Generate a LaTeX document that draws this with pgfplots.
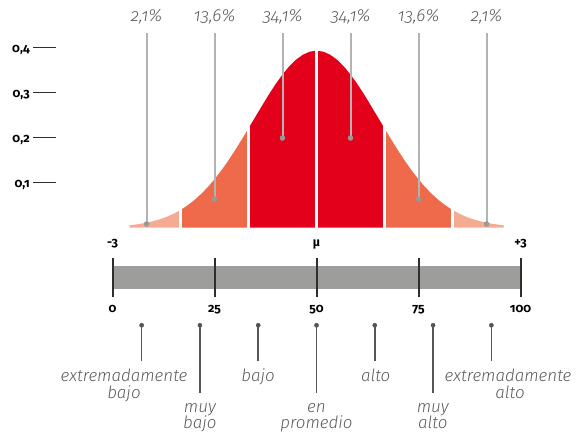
\documentclass[border=0pt]{standalone}
\usepackage{fontspec}
\setmainfont{Fira Sans}[Numbers=OldStyle]
\newfontfamily\lightit{Fira Sans Light Italic}[Numbers=OldStyle]
\usepackage{pgfplots}
\pgfplotsset{compat=1.18}
\definecolor{peach}{HTML}{F4AB91}
\definecolor{coral}{HTML}{EE6A4B}
\definecolor{redc}{HTML}{E2001A}
\definecolor{pline}{HTML}{B3B3B3}
\definecolor{pdot}{HTML}{999999}
\definecolor{txt}{HTML}{5C5C5C}
\definecolor{barc}{HTML}{9D9E9C}
\definecolor{dark}{HTML}{2E2E2E}
\definecolor{catc}{HTML}{555555}
\tikzset{
  pctlab/.style={anchor=base, text=txt, inner sep=0pt, font=\lightit\fontsize{17.5}{19}\selectfont},
  boldlab/.style={anchor=base, inner sep=0pt, font=\bfseries\fontsize{12.5}{14}\selectfont},
  ylab/.style={anchor=base east, inner sep=0pt, font=\bfseries\fontsize{12.5}{14}\selectfont},
  catlab/.style={anchor=base, inner sep=0pt, text=txt, font=\lightit\fontsize{17}{18}\selectfont}
}
\begin{document}
\begin{tikzpicture}
\begin{axis}[scale only axis, width=577bp, height=434bp,
  xmin=-4.6544, xmax=3.8309, ymin=-0.45889, ymax=0.50556,
  axis lines=none, clip=false, unbounded coords=jump]
% curve segments
\addplot[fill=peach, draw=none] coordinates {(-2.75,0) (-2.75,0.0050) (-2.7,0.0058) (-2.6,0.0079) (-2.5,0.0106) (-2.4,0.0141) (-2.3,0.0185) (-2.2,0.0239) (-2.1,0.0307) (-2.0,0.0389) (-2.0,0)};
\addplot[fill=coral, draw=none] coordinates {(-2,0) (-2,0.0389) (-1.9,0.0488) (-1.8,0.0604) (-1.7,0.0740) (-1.6,0.0895) (-1.5,0.1071) (-1.4,0.1266) (-1.3,0.1480) (-1.2,0.1711) (-1.1,0.1953) (-1,0.2205) (-1,0)};
\addplot[fill=redc, draw=none] coordinates {(-1,0) (-1,0.2205) (-0.9,0.2457) (-0.8,0.2709) (-0.7,0.2957) (-0.6,0.3190) (-0.5,0.3400) (-0.4,0.3583) (-0.3,0.3731) (-0.2,0.3840) (-0.1,0.3907) (0,0.3930) (0,0)};
\addplot[fill=redc, draw=none] coordinates {(1,0) (1,0.2205) (0.9,0.2457) (0.8,0.2709) (0.7,0.2957) (0.6,0.3190) (0.5,0.3400) (0.4,0.3583) (0.3,0.3731) (0.2,0.3840) (0.1,0.3907) (0,0.3930) (0,0)};
\addplot[fill=coral, draw=none] coordinates {(2,0) (2,0.0389) (1.9,0.0488) (1.8,0.0604) (1.7,0.0740) (1.6,0.0895) (1.5,0.1071) (1.4,0.1266) (1.3,0.1480) (1.2,0.1711) (1.1,0.1953) (1,0.2205) (1,0)};
\addplot[fill=peach, draw=none] coordinates {(2.75,0) (2.75,0.0050) (2.7,0.0058) (2.6,0.0079) (2.5,0.0106) (2.4,0.0141) (2.3,0.0185) (2.2,0.0239) (2.1,0.0307) (2.0,0.0389) (2.0,0)};
% white separators
\addplot[white, line width=2.7bp] coordinates {(-2,-0.002) (-2,0.06) (-2,nan) (-1,-0.002) (-1,0.24) (-1,nan) (0,-0.002) (0,0.41) (0,nan) (1,-0.002) (1,0.24) (1,nan) (2,-0.002) (2,0.06)};
% percentage pointers
\addplot[pline, line width=2bp] coordinates {(-2.5,0.4322) (-2.5,0.0078) (-2.5,nan) (-1.5,0.4322) (-1.5,0.0633) (-1.5,nan) (-0.5,0.4322) (-0.5,0.1989) (-0.5,nan) (0.5,0.4322) (0.5,0.1989) (0.5,nan) (1.5,0.4322) (1.5,0.0633) (1.5,nan) (2.5,0.4322) (2.5,0.0078)};
\addplot[only marks, mark=*, mark size=2.5bp, color=pdot] coordinates {(-2.5,0.0078) (-1.5,0.0633) (-0.5,0.1989) (0.5,0.1989) (1.5,0.0633) (2.5,0.0078)};
% percentage labels
\node[pctlab] at (axis cs:-2.5,0.4567) {2,1\%};
\node[pctlab] at (axis cs:-1.5,0.4567) {13,6\%};
\node[pctlab] at (axis cs:-0.5,0.4567) {34,1\%};
\node[pctlab] at (axis cs:0.5,0.4567) {34,1\%};
\node[pctlab] at (axis cs:1.5,0.4567) {13,6\%};
\node[pctlab] at (axis cs:2.5,0.4567) {2,1\%};
% left density ticks
\addplot[dark, line width=1.6bp] coordinates {(-4.169,0.1) (-3.831,0.1) (-3.831,nan) (-4.169,0.2) (-3.831,0.2) (-3.831,nan) (-4.169,0.3) (-3.831,0.3) (-3.831,nan) (-4.169,0.4) (-3.831,0.4)};
\node[ylab] at (axis cs:-4.213,0.09) {0,1};
\node[ylab] at (axis cs:-4.213,0.19) {0,2};
\node[ylab] at (axis cs:-4.213,0.29) {0,3};
\node[ylab] at (axis cs:-4.213,0.39) {0,4};
% sigma labels
\node[boldlab] at (axis cs:-3,-0.0433) {-3};
\node[boldlab] at (axis cs:0,-0.0433) {µ};
\node[boldlab] at (axis cs:3,-0.0433) {+3};
% percentile bar
\addplot[fill=barc, draw=none] coordinates {(-3,-0.0856) (3,-0.0856) (3,-0.1367) (-3,-0.1367)};
\addplot[dark, line width=2bp] coordinates {(-3,-0.0678) (-3,-0.1544) (-3,nan) (-1.5,-0.0678) (-1.5,-0.1544) (-1.5,nan) (0,-0.0678) (0,-0.1544) (0,nan) (1.5,-0.0678) (1.5,-0.1544) (1.5,nan) (3,-0.0678) (3,-0.1544)};
\node[boldlab] at (axis cs:-3,-0.1878) {0};
\node[boldlab] at (axis cs:-1.5,-0.1878) {25};
\node[boldlab] at (axis cs:0,-0.1878) {50};
\node[boldlab] at (axis cs:1.5,-0.1878) {75};
\node[boldlab] at (axis cs:3,-0.1878) {100};
% category pointers
\addplot[catc, line width=1.7bp] coordinates {(-2.5714,-0.2172) (-2.5714,-0.2967) (-2.5714,nan) (-1.7143,-0.2172) (-1.7143,-0.3678) (-1.7143,nan) (-0.8571,-0.2172) (-0.8571,-0.2967) (-0.8571,nan) (0,-0.2172) (0,-0.3678) (0,nan) (0.8571,-0.2172) (0.8571,-0.2967) (0.8571,nan) (1.7143,-0.2172) (1.7143,-0.3678) (1.7143,nan) (2.5714,-0.2172) (2.5714,-0.2967)};
\addplot[only marks, mark=*, mark size=2.1bp, color=catc] coordinates {(-2.5714,-0.2172) (-1.7143,-0.2172) (-0.8571,-0.2172) (0,-0.2172) (0.8571,-0.2172) (1.7143,-0.2172) (2.5714,-0.2172)};
% category labels
\node[catlab] at (axis cs:-2.831,-0.3433) {extremadamente};
\node[catlab] at (axis cs:-2.831,-0.3789) {bajo};
\node[catlab] at (axis cs:-1.7143,-0.4100) {muy};
\node[catlab] at (axis cs:-1.7143,-0.4456) {bajo};
\node[catlab] at (axis cs:-0.86,-0.3433) {bajo};
\node[catlab] at (axis cs:0,-0.4100) {en};
\node[catlab] at (axis cs:0,-0.4456) {promedio};
\node[catlab] at (axis cs:0.87,-0.3433) {alto};
\node[catlab] at (axis cs:1.71,-0.4100) {muy};
\node[catlab] at (axis cs:1.71,-0.4456) {alto};
\node[catlab] at (axis cs:2.816,-0.3433) {extremadamente};
\node[catlab] at (axis cs:2.846,-0.3789) {alto};
\end{axis}
\pgfresetboundingbox
\path[use as bounding box] (current axis.south west) rectangle (current axis.north east);
\end{tikzpicture}
\end{document}
